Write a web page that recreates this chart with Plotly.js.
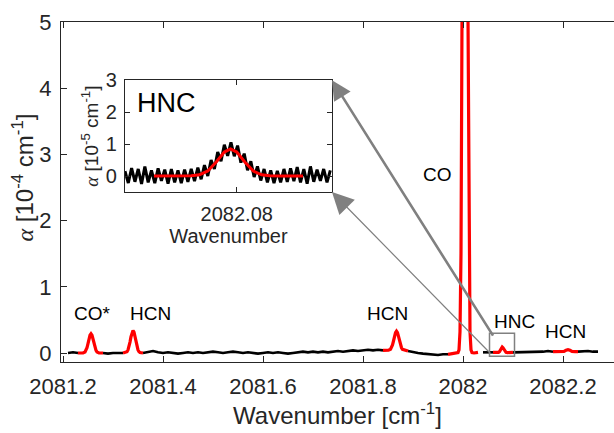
<!DOCTYPE html>
<html>
<head>
<meta charset="utf-8">
<script src="https://cdn.plot.ly/plotly-3.0.1.min.js"></script>
<style>html,body{margin:0;padding:0;background:#fff;}#chart{width:614px;height:433px;}</style>
</head>
<body>
<div id="chart"></div>
<script>
// ---- Main spectrum (alpha in 1e-4 cm^-1) ----
const mainX = [2081.21,2081.22,2081.23,2081.24,2081.25,2081.26,2081.27,2081.28,2081.29,2081.30,
 2081.31,2081.32,2081.33,2081.34,2081.35,2081.36,2081.37,2081.38,2081.39,2081.40,
 2081.41,2081.42,2081.43,2081.44,2081.45,2081.46,2081.47,2081.48,2081.49,2081.50,
 2081.51,2081.52,2081.53,2081.54,2081.55,2081.56,2081.57,2081.58,2081.59,2081.60,
 2081.61,2081.62,2081.63,2081.64,2081.65,2081.66,2081.67,2081.68,2081.69,2081.70,
 2081.71,2081.72,2081.73,2081.74,2081.75,2081.76,2081.77,2081.78,2081.79,2081.80,
 2081.81,2081.82,2081.83,2081.84,2081.85,2081.86,2081.87,2081.88,2081.89,2081.90,
 2081.91,2081.92,2081.93,2081.94,2081.95,2081.96,2081.97,2081.98,2081.99,2082.00,
 2082.01,2082.02,2082.03,2082.04,2082.05,2082.06,2082.07,2082.08,2082.09,2082.10,
 2082.11,2082.12,2082.13,2082.14,2082.15,2082.16,2082.17,2082.18,2082.19,2082.20,
 2082.21,2082.22,2082.23,2082.24,2082.25,2082.26,2082.27];
const mainY = [0.00,0.01,0.00,null,null,null,null,0.00,-0.01,0.00,
 0.00,0.00,null,null,null,0.00,0.01,0.03,0.01,0.00,
 0.01,0.00,-0.01,0.00,0.01,0.00,0.01,0.00,0.01,0.02,
 0.01,0.00,0.01,0.02,0.01,0.00,0.01,0.00,-0.01,0.00,
 0.01,0.00,0.01,0.00,-0.01,0.00,0.01,0.02,0.01,0.02,
 0.01,0.02,0.01,0.02,0.03,0.02,0.03,0.04,0.03,0.04,
 0.05,0.04,0.05,0.04,null,null,null,null,0.03,0.01,
 0.00,-0.01,-0.02,-0.03,-0.03,-0.02,-0.02,null,null,null,
 null,null,null,0.01,0.01,0.01,null,null,null,0.01,
 0.01,0.02,0.01,0.02,0.01,0.02,0.03,0.02,null,null,
 null,null,0.02,0.03,0.03,0.02,0.02];

// ---- Fitted line profiles (red) ----
const coStarX = [2081.23,2081.24,2081.244,2081.246,2081.248,2081.250,2081.252,2081.254,2081.256,2081.258,2081.260,2081.262,2081.264,2081.266,2081.268,2081.272,2081.28];
const coStarY = [0.00,0.002,0.016,0.039,0.081,0.141,0.211,0.268,0.29,0.268,0.211,0.141,0.081,0.039,0.016,0.002,0.00];
const hcn1X = [2081.32,2081.326,2081.328,2081.330,2081.332,2081.334,2081.336,2081.338,2081.340,2081.342,2081.344,2081.346,2081.348,2081.350,2081.352,2081.354,2081.36];
const hcn1Y = [0.00,0.007,0.019,0.046,0.095,0.165,0.247,0.314,0.34,0.314,0.247,0.165,0.095,0.046,0.019,0.007,0.00];
const hcn2X = [2081.84,2081.851,2081.855,2081.857,2081.859,2081.861,2081.863,2081.865,2081.867,2081.869,2081.871,2081.873,2081.875,2081.877,2081.879,2081.883,2081.89];
const hcn2Y = [0.04,0.042,0.056,0.079,0.121,0.181,0.251,0.308,0.33,0.308,0.251,0.181,0.121,0.079,0.056,0.042,0.03];
const coX = [2081.97,2081.986,2081.99,2081.992,2081.994,2081.996,2081.998,2082.000,2082.002,2082.004,2082.006,2082.008,2082.010,2082.012,2082.014,2082.016,2082.018,2082.022,2082.03];
const coY = [-0.02,0.0,0.005,0.047,0.32,1.5,5.06,12.0,20.2,24,20.2,12.0,5.06,1.5,0.32,0.047,0.005,0.0,0.01];
const hncX = [2082.06,2082.068,2082.071,2082.073,2082.075,2082.077,2082.0785,2082.080,2082.082,2082.084,2082.086,2082.089,2082.10];
const hncY = [0.01,0.005,0.009,0.021,0.048,0.08,0.09,0.08,0.048,0.021,0.009,0.005,0.01];
const hcn3X = [2082.18,2082.196,2082.202,2082.206,2082.210,2082.214,2082.218,2082.224,2082.23];
const hcn3Y = [0.02,0.02,0.025,0.04,0.05,0.04,0.025,0.02,0.02];

// ---- Inset: HNC (alpha in 1e-5 cm^-1) ----
const insetX = [2082.0530,2082.0538,2082.0546,2082.0554,2082.0562,2082.0570,2082.0578,2082.0586,2082.0594,2082.0602,
 2082.0610,2082.0618,2082.0626,2082.0634,2082.0642,2082.0650,2082.0658,2082.0666,2082.0674,2082.0682,
 2082.0690,2082.0698,2082.0706,2082.0714,2082.0722,2082.0730,2082.0738,2082.0746,2082.0754,2082.0762,
 2082.0770,2082.0778,2082.0786,2082.0794,2082.0802,2082.0810,2082.0818,2082.0826,2082.0834,2082.0842,
 2082.0850,2082.0858,2082.0866,2082.0874,2082.0882,2082.0890,2082.0898,2082.0906,2082.0914,2082.0922,
 2082.0930,2082.0938,2082.0946,2082.0954,2082.0962,2082.0970,2082.0978,2082.0986,2082.0994,2082.1002,
 2082.1010,2082.1018,2082.1026];
const insetY = [0.15,-0.22,0.25,-0.18,0.22,-0.25,0.30,-0.20,0.18,-0.22,
 0.24,-0.15,0.20,-0.24,0.22,-0.20,0.18,-0.22,0.20,-0.18,
 0.22,-0.16,0.26,-0.10,0.34,0.00,0.50,0.22,0.75,0.46,
 0.98,0.63,1.05,0.62,0.95,0.42,0.70,0.18,0.46,-0.03,
 0.30,-0.14,0.22,-0.20,0.18,-0.22,0.16,-0.20,0.22,-0.18,
 0.24,-0.16,0.28,-0.20,0.22,-0.24,0.30,-0.18,0.20,-0.15,
 0.22,-0.20,0.18];
const insetFitX = [2082.060,2082.066,2082.069,2082.071,2082.073,2082.075,2082.077,2082.0785,2082.080,2082.082,2082.084,2082.086,2082.088,2082.091,2082.096];
const insetFitY = [0.0,0.0,0.006,0.037,0.158,0.43,0.75,0.85,0.75,0.43,0.158,0.037,0.006,0.0,0.0];

const xTickVals = [2081.2,2081.4,2081.6,2081.8,2082,2082.2];
const xTickText = ['2081.2','2081.4','2081.6','2081.8','2082','2082.2'];
const yTickVals = [0,1,2,3,4,5];
const insetXTickVals = [2082.08];
const insetYTickVals = [0,1,2,3];

const FONT = 'Liberation Sans, Arial, Helvetica, sans-serif';
const AX = '#262626';
const RED = '#ff0000';
const GRAY = '#808080';
const ALPHA = '<span style="font-family:Liberation Serif;font-style:italic">α</span>';

function fit(x, y) {
  return {x: x, y: y, type: 'scatter', mode: 'lines', xaxis: 'x', yaxis: 'y',
    line: {color: RED, width: 3.2}, hoverinfo: 'skip', showlegend: false};
}

const traces = [
  {x: mainX, y: mainY, type: 'scatter', mode: 'lines', connectgaps: false,
   line: {color: '#000', width: 2.6}, showlegend: false, xaxis: 'x', yaxis: 'y'},
  fit(coStarX, coStarY), fit(hcn1X, hcn1Y), fit(hcn2X, hcn2Y),
  fit(coX, coY), fit(hncX, hncY), fit(hcn3X, hcn3Y),
  {x: insetX, y: insetY, type: 'scatter', mode: 'lines',
   line: {color: '#000', width: 3}, showlegend: false, xaxis: 'x2', yaxis: 'y2'},
  {x: insetFitX, y: insetFitY, type: 'scatter', mode: 'lines',
   line: {color: RED, width: 3}, showlegend: false, xaxis: 'x2', yaxis: 'y2'}
];

const insetDom = {x: [0.1157, 0.490], y: [0.5, 0.829]};

function lbl(x, y, t, size) {
  return {x: x, y: y, xref: 'x', yref: 'y', text: t, showarrow: false,
    font: {family: FONT, size: size || 19, color: '#000'}, xanchor: 'center', yanchor: 'middle'};
}

const layout = {
  width: 614, height: 433,
  margin: {l: 61, r: 0, t: 22, b: 71},
  paper_bgcolor: '#fff', plot_bgcolor: '#fff',
  font: {family: FONT, color: AX},
  showlegend: false,
  xaxis: {
    range: [2081.196, 2082.302], tickvals: xTickVals, ticktext: xTickText,
    ticks: 'inside', ticklen: 6, tickwidth: 1, tickcolor: AX,
    showline: true, linecolor: AX, linewidth: 1, mirror: 'ticks',
    showgrid: false, zeroline: false, ticklabelstandoff: 5,
    tickfont: {size: 22, color: AX, family: FONT},
    title: {text: 'Wavenumber [cm<sup>-1</sup>]', font: {size: 24, color: AX, family: FONT}, standoff: 4},
    automargin: false
  },
  yaxis: {
    range: [-0.136, 5], tickvals: yTickVals,
    ticks: 'inside', ticklen: 6, tickwidth: 1, tickcolor: AX,
    showline: true, linecolor: AX, linewidth: 1, mirror: false,
    showgrid: false, zeroline: false, ticklabelstandoff: 4,
    tickfont: {size: 22, color: AX, family: FONT},
    automargin: false
  },
  xaxis2: {
    domain: insetDom.x, anchor: 'y2', range: [2082.053, 2082.103], tickvals: insetXTickVals,
    ticktext: ['2082.08'],
    ticks: 'inside', ticklen: 5, tickcolor: AX, showline: true, linecolor: AX, mirror: 'ticks',
    showgrid: false, zeroline: false, ticklabelstandoff: 4,
    tickfont: {size: 20, color: AX, family: FONT},
    title: {text: 'Wavenumber', font: {size: 20, color: AX, family: FONT}, standoff: 1},
    automargin: false
  },
  yaxis2: {
    domain: insetDom.y, anchor: 'x2', range: [-0.5, 3], tickvals: insetYTickVals,
    ticks: 'inside', ticklen: 5, tickcolor: AX, showline: true, linecolor: AX, mirror: 'ticks',
    showgrid: false, zeroline: false, ticklabelstandoff: 3,
    tickfont: {size: 20, color: AX, family: FONT},
    title: {text: ALPHA + ' [10<sup>-5</sup> cm<sup>-1</sup>]', font: {size: 19, color: AX, family: FONT}, standoff: 2},
    automargin: false
  },
  shapes: [
    {type: 'rect', xref: 'x', yref: 'y', x0: 2082.053, x1: 2082.103, y0: -0.05, y1: 0.3,
     line: {color: GRAY, width: 1.5}, fillcolor: 'rgba(0,0,0,0)'}
  ],
  annotations: [
    {x: -0.068, y: 0.544, xref: 'paper', yref: 'paper', textangle: -90, showarrow: false,
     text: ALPHA + ' [10<sup>-4</sup> cm<sup>-1</sup>]', xanchor: 'center', yanchor: 'middle',
     font: {family: FONT, size: 24, color: AX}},
    lbl(2081.258, 0.60, 'CO*'),
    lbl(2081.374, 0.60, 'HCN'),
    lbl(2081.848, 0.60, 'HCN'),
    lbl(2081.948, 2.69, 'CO'),
    lbl(2082.102, 0.47, 'HNC'),
    lbl(2082.204, 0.32, 'HCN'),
    {x: 2082.0553, y: 2.3, xref: 'x2', yref: 'y2', text: 'HNC', showarrow: false,
     xanchor: 'left', yanchor: 'middle', font: {family: FONT, size: 27, color: '#000'}},
    {x: insetDom.x[1], y: insetDom.y[1], xref: 'paper', yref: 'paper', axref: 'pixel', ayref: 'pixel',
     ax: 162, ay: 257, text: '', showarrow: true, arrowhead: 2, arrowsize: 1.5, arrowwidth: 2.6,
     arrowcolor: GRAY, standoff: 0},
    {x: insetDom.x[1], y: insetDom.y[0], xref: 'paper', yref: 'paper', axref: 'pixel', ayref: 'pixel',
     ax: 160, ay: 163, text: '', showarrow: true, arrowhead: 2, arrowsize: 3.6, arrowwidth: 1.2,
     arrowcolor: GRAY, standoff: 0}
  ]
};

Plotly.newPlot('chart', traces, layout, {displayModeBar: false, staticPlot: true});
</script>
</body>
</html>
